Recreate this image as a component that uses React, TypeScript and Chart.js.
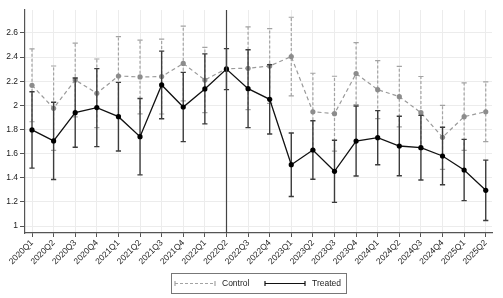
import { useEffect, useRef } from 'react';
import { Chart, registerables } from 'chart.js';

Chart.register(...registerables);

const quarters = [
  '2020Q1', '2020Q2', '2020Q3', '2020Q4',
  '2021Q1', '2021Q2', '2021Q3', '2021Q4',
  '2022Q1', '2022Q2', '2022Q3', '2022Q4',
  '2023Q1', '2023Q2', '2023Q3', '2023Q4',
  '2024Q1', '2024Q2', '2024Q3', '2024Q4',
  '2025Q1', '2025Q2',
];

const controlValues = [2.166, 1.976, 2.21, 2.10, 2.243, 2.235, 2.238, 2.347, 2.21, 2.304, 2.307, 2.326, 2.404, 1.947, 1.931, 2.263, 2.13, 2.072, 1.939, 1.735, 1.906, 1.947];
const controlErr: (number | null)[] = [0.302, 0.35, 0.305, 0.284, 0.327, 0.305, 0.31, 0.31, 0.27, null, 0.343, 0.31, 0.326, 0.319, 0.31, 0.256, 0.24, 0.25, 0.3, 0.265, 0.28, 0.247];

const treatedValues = [1.796, 1.705, 1.939, 1.981, 1.906, 1.74, 2.169, 1.986, 2.136, 2.30, 2.138, 2.05, 1.508, 1.63, 1.453, 1.704, 1.732, 1.663, 1.649, 1.58, 1.464, 1.296];
const treatedErr: (number | null)[] = [0.316, 0.32, 0.287, 0.323, 0.284, 0.316, 0.28, 0.287, 0.29, 0.17, 0.323, 0.287, 0.263, 0.242, 0.257, 0.29, 0.224, 0.247, 0.268, 0.238, 0.254, 0.25];

const yTicks = [1, 1.2, 1.4, 1.6, 1.8, 2, 2.2, 2.4, 2.6];
const referenceIndex = 9; // 2022Q2

const FONT = 'Liberation Sans, Arial, Helvetica, sans-serif';

const errStyles = [
  { err: controlErr, color: '#a3a3a3', width: 1.2, dash: [3, 2] },
  { err: treatedErr, color: '#3c3c3c', width: 1.4, dash: [] as number[] },
];

const CAP = 2.6;

const errorBarPlugin = {
  id: 'errorBars',
  beforeDatasetDraw(chart: any, args: any) {
    const st = errStyles[args.index];
    if (!st) return;
    const ds = chart.data.datasets[args.index];
    const { ctx } = chart;
    const xs = chart.scales.x;
    const ys = chart.scales.y;
    ctx.save();
    ctx.strokeStyle = st.color;
    ctx.lineWidth = st.width;
    ds.data.forEach((p: any, i: number) => {
      const e = st.err[i];
      if (e == null) return;
      const x = xs.getPixelForValue(p.x);
      const y1 = ys.getPixelForValue(p.y - e);
      const y2 = ys.getPixelForValue(p.y + e);
      ctx.setLineDash(st.dash);
      ctx.beginPath();
      ctx.moveTo(x, y1);
      ctx.lineTo(x, y2);
      ctx.stroke();
      ctx.setLineDash([]);
      ctx.beginPath();
      ctx.moveTo(x - CAP, y1);
      ctx.lineTo(x + CAP, y1);
      ctx.moveTo(x - CAP, y2);
      ctx.lineTo(x + CAP, y2);
      ctx.stroke();
    });
    ctx.restore();
  },
};

const refLinePlugin = {
  id: 'refLine',
  afterDatasetsDraw(chart: any) {
    const { ctx, chartArea } = chart;
    const x = Math.round(chart.scales.x.getPixelForValue(referenceIndex)) + 0.5;
    ctx.save();
    ctx.strokeStyle = '#444';
    ctx.lineWidth = 1.2;
    ctx.beginPath();
    ctx.moveTo(x, chartArea.top);
    ctx.lineTo(x, chartArea.bottom);
    ctx.stroke();
    ctx.restore();
  },
};

const legendItems = [
  { label: 'Control', color: '#a3a3a3', dash: [3, 2], x: 175 },
  { label: 'Treated', color: '#111', dash: [] as number[], x: 265 },
];

const boxLegendPlugin = {
  id: 'boxLegend',
  afterDraw(chart: any) {
    const { ctx } = chart;
    ctx.save();
    ctx.strokeStyle = '#777';
    ctx.lineWidth = 1;
    ctx.strokeRect(171.5, 273.5, 175, 20);
    const y = 283.5;
    legendItems.forEach((it) => {
      ctx.strokeStyle = it.color;
      ctx.lineWidth = 1.2;
      ctx.setLineDash(it.dash);
      ctx.beginPath();
      ctx.moveTo(it.x, y);
      ctx.lineTo(it.x + 40, y);
      ctx.stroke();
      ctx.setLineDash([]);
      ctx.beginPath();
      ctx.moveTo(it.x, y - 2.5);
      ctx.lineTo(it.x, y + 2.5);
      ctx.moveTo(it.x + 40, y - 2.5);
      ctx.lineTo(it.x + 40, y + 2.5);
      ctx.stroke();
      ctx.fillStyle = '#222';
      ctx.font = `8.5px ${FONT}`;
      ctx.textBaseline = 'middle';
      ctx.textAlign = 'left';
      ctx.fillText(it.label, it.x + 47, y);
    });
    ctx.restore();
  },
};

export default function App() {
  const ref = useRef<HTMLCanvasElement>(null);
  useEffect(() => {
    document.body.style.margin = '0';
    const canvas = ref.current!;
    const chart = new Chart(canvas, {
      type: 'line',
      data: {
        datasets: [
          {
            label: 'Control',
            data: controlValues.map((v, i) => ({ x: i, y: v })),
            borderColor: '#9a9a9a',
            borderWidth: 1.2,
            borderDash: [4, 3],
            pointRadius: 2.6,
            pointBorderWidth: 0,
            pointBackgroundColor: '#8c8c8c',
            order: 1,
            tension: 0,
          },
          {
            label: 'Treated',
            data: treatedValues.map((v, i) => ({ x: i, y: v })),
            borderColor: '#111',
            borderWidth: 1.3,
            pointRadius: 2.6,
            pointBorderWidth: 0,
            pointBackgroundColor: '#000',
            order: 0,
            tension: 0,
          },
        ],
      },
      options: {
        responsive: false,
        animation: false,
        devicePixelRatio: 1,
        layout: { padding: { top: 10, right: 11, left: 0, bottom: 0 } },
        font: { family: FONT, size: 8.5 },
        plugins: {
          legend: { display: false },
          tooltip: { enabled: false },
        },
        scales: {
          x: {
            type: 'linear',
            min: -0.324,
            max: 21.29,
            afterBuildTicks: (scale: any) => {
              scale.ticks = quarters.map((_, i) => ({ value: i }));
            },
            afterFit: (scale: any) => {
              scale.height = 65;
            },
            ticks: {
              autoSkip: false,
              minRotation: 45,
              maxRotation: 45,
              padding: 1,
              color: '#222',
              font: { family: FONT, size: 8.5 },
              callback: (v: any) => quarters[Math.round(Number(v))] ?? '',
            },
            grid: { color: '#ececec', lineWidth: 1, tickColor: '#555', tickLength: 4 },
            border: { color: '#555', width: 1.2 },
          },
          y: {
            type: 'linear',
            min: 0.942,
            max: 2.79,
            afterBuildTicks: (scale: any) => {
              scale.ticks = yTicks.map((v) => ({ value: v }));
            },
            afterFit: (scale: any) => {
              scale.width = 25;
            },
            ticks: {
              padding: 2,
              color: '#222',
              font: { family: FONT, size: 8.5 },
              callback: (v: any) => String(Number(Number(v).toFixed(1))),
            },
            grid: { color: '#ececec', lineWidth: 1, tickColor: '#555', tickLength: 5 },
            border: { color: '#555', width: 1.2 },
          },
        },
      },
      plugins: [errorBarPlugin, refLinePlugin, boxLegendPlugin],
    } as any);
    return () => chart.destroy();
  }, []);
  return (
    <div style={{ width: 503, height: 298 }}>
      <canvas ref={ref} width={503} height={298} style={{ display: 'block' }} />
    </div>
  );
}
